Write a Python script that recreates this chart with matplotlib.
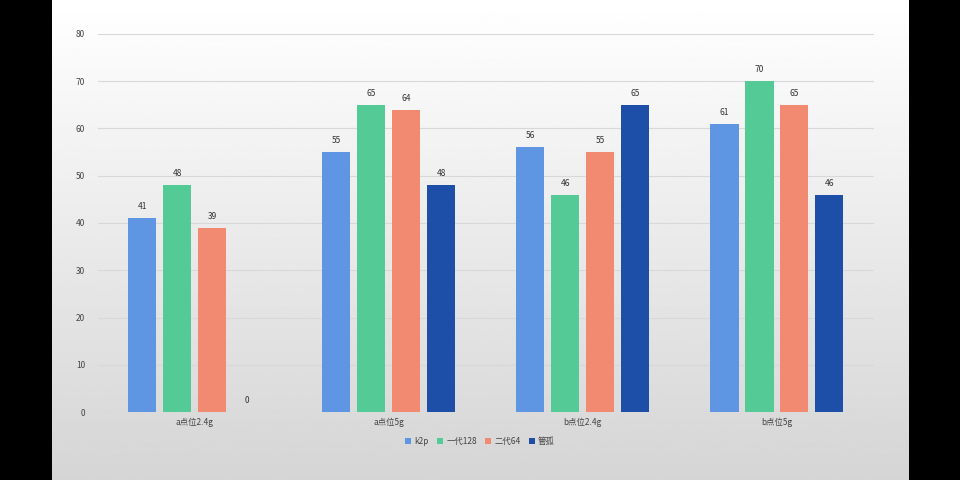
import matplotlib
matplotlib.use("Agg")
import matplotlib.pyplot as plt
import numpy as np

plt.rcParams['font.family'] = ['Noto Sans CJK SC', 'DejaVu Sans']

# -------------------------------------------------------------
# Data
# -------------------------------------------------------------
categories = ["a点位2.4g", "a点位5g", "b点位2.4g", "b点位5g"]
series_names = ["k2p", "一代128", "二代64", "管孤"]
k2p = [41, 55, 56, 61]
gen1_128 = [48, 65, 46, 70]
gen2_64 = [39, 64, 55, 65]
guan = [0, 48, 65, 46]
series_values = [k2p, gen1_128, gen2_64, guan]
y_ticks = [0, 10, 20, 30, 40, 50, 60, 70, 80]

colors = ["#5E96E4", "#54CB96", "#F28A71", "#1D4FA8"]

# -------------------------------------------------------------
# Figure: black sides + gradient panel
# -------------------------------------------------------------
fig = plt.figure(figsize=(9.6, 4.8), dpi=100, facecolor="black")

bg = fig.add_axes([52 / 960, 0, (908 - 52) / 960, 1])
grad = np.linspace(1.0, 0.835, 256).reshape(-1, 1)
bg.imshow(grad, cmap="gray", vmin=0, vmax=1, aspect="auto",
          extent=[0, 1, 0, 1], origin="upper")
bg.axis("off")

ax = fig.add_axes([97.5 / 960, 1 - 412 / 480, (874 - 97.5) / 960, (412 - 34) / 480])
ax.patch.set_alpha(0)

x = np.arange(len(categories))
step = 0.18
width = 0.145
offsets = (np.arange(len(series_names)) - 1.5) * step

for name, vals, off, col in zip(series_names, series_values, offsets, colors):
    bars = ax.bar(x + off, vals, width=width, color=col, label=name, zorder=3)
    for b, v in zip(bars, vals):
        ax.text(b.get_x() + b.get_width() / 2, v + 1.5, f"{v}",
                ha="center", va="bottom", fontsize=6, color="#333333")

ax.set_xlim(-0.5, len(categories) - 0.5)
ax.set_ylim(0, 80)
ax.set_yticks(y_ticks)
ax.set_xticks(x)
ax.set_xticklabels(categories)
ax.tick_params(axis="both", length=0, labelsize=6, colors="#444444")
ax.tick_params(axis="y", pad=9)
ax.tick_params(axis="x", pad=4)
ax.grid(axis="y", color="#d8d8d8", linewidth=0.8, zorder=0)
for s in ax.spines.values():
    s.set_visible(False)

leg = fig.legend(loc="center", bbox_to_anchor=(480 / 960, 1 - 441 / 480),
                 ncol=4, frameon=False, fontsize=6, handlelength=0.7,
                 handleheight=0.7, handletextpad=0.4, columnspacing=1.0)
for t in leg.get_texts():
    t.set_color("#444444")

fig.savefig("out.png", dpi=100, facecolor="black")
